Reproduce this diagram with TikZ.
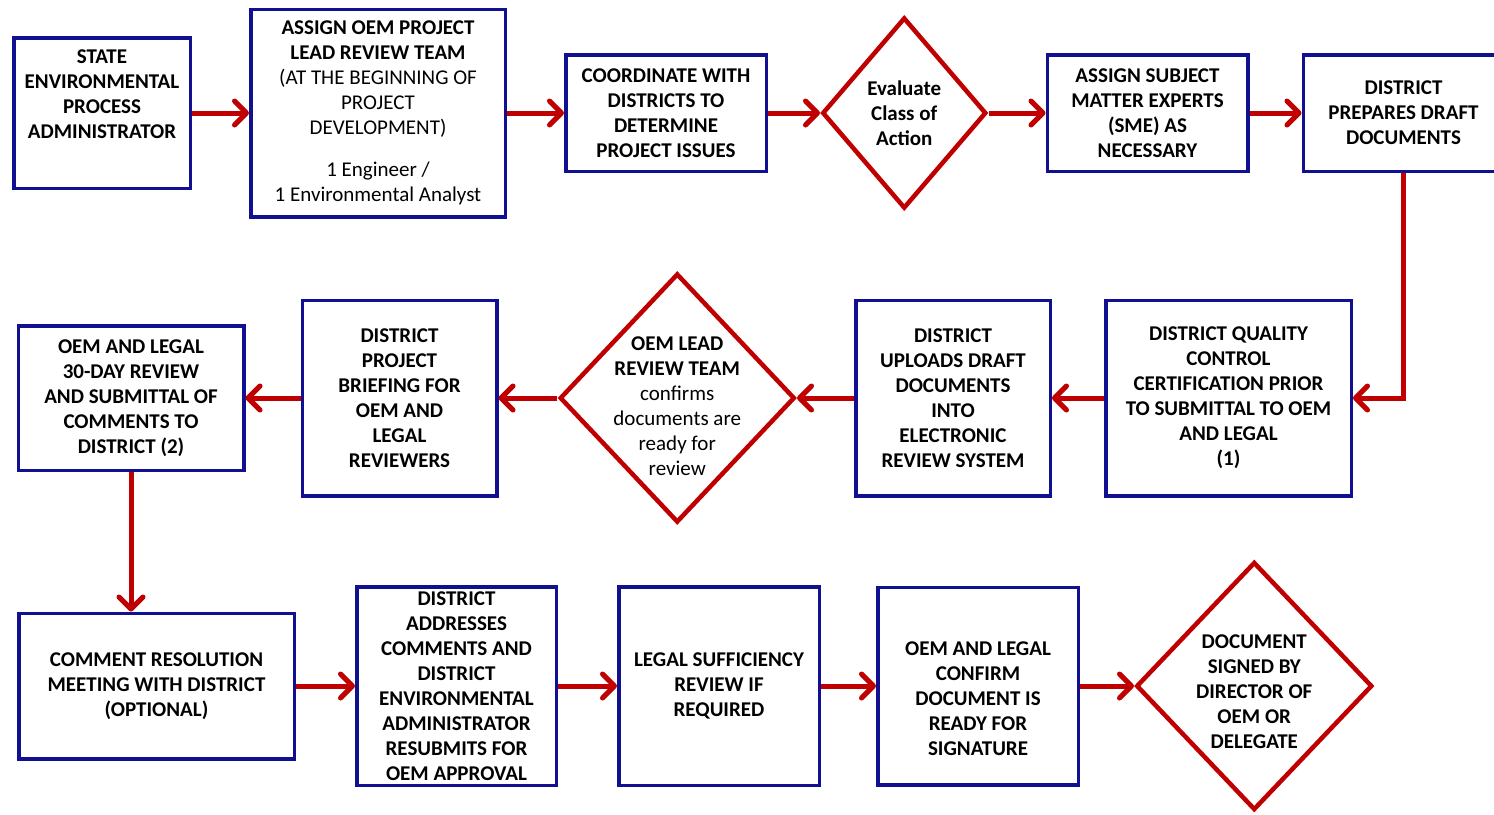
\documentclass[tikz,border=0pt]{standalone}
\usepackage{fontspec}
\setmainfont{Carlito}
\usetikzlibrary{arrows.meta,positioning,shapes.geometric}
\definecolor{boxblue}{RGB}{16,16,145}
\definecolor{flowred}{RGB}{192,0,0}

\begin{document}
\begin{tikzpicture}[x=1pt,y=-1pt,->,>={Straight Barb[length=12pt,width=24pt,round]},
                    every edge/.style={draw=flowred,line width=5pt},
                    stepbox/.style={rectangle,draw=boxblue,line width=3.5pt,align=center,
                                    font=\fontsize{21}{25}\selectfont\bfseries,inner sep=2pt},
                    decision/.style={diamond,draw=flowred,line width=4.5pt,inner sep=0pt},
                    dtext/.style={align=center,font=\fontsize{21}{25}\selectfont}]
  \useasboundingbox (0,0) rectangle (1494,814);

  % first row
  \node[stepbox,minimum width=176.5pt,minimum height=150.5pt] (sepa) at (102,113) {};
  \node[dtext,font=\fontsize{21}{25}\selectfont\bfseries] (sepatxt) at ([yshift=18.5pt]sepa.center)
       {STATE\\ENVIRONMENTAL\\PROCESS\\ADMINISTRATOR};
  \node[stepbox,minimum width=254.5pt,minimum height=207.5pt] (lead) [right=57pt of sepa]
       {ASSIGN OEM PROJECT\\LEAD REVIEW TEAM\\{\mdseries (AT THE BEGINNING OF}\\
        {\mdseries PROJECT}\\{\mdseries DEVELOPMENT)}\\[17pt]{\mdseries 1 Engineer /}\\
        {\mdseries 1 Environmental Analyst}};
  \node[stepbox,minimum width=200.5pt,minimum height=116.5pt] (coord) [right=57pt of lead]
       {COORDINATE WITH\\DISTRICTS TO\\DETERMINE\\PROJECT ISSUES};
  \node[decision,minimum width=164pt,minimum height=191pt] (eval) [right=52pt of coord] {};
  \node[dtext,font=\fontsize{21}{25}\selectfont\bfseries] (evaltxt) at (eval)
       {Evaluate\\Class of\\Action};
  \node[stepbox,minimum width=200.5pt,minimum height=116.5pt] (sme) [right=57pt of eval]
       {ASSIGN SUBJECT\\MATTER EXPERTS\\(SME) AS\\NECESSARY};
  \node[stepbox,minimum width=200.5pt,minimum height=116.5pt] (prep) [right=52pt of sme]
       {DISTRICT\\PREPARES DRAFT\\DOCUMENTS};

  % second row
  \node[stepbox,minimum width=245.5pt,minimum height=195.5pt] (qc) at (1228.5,398)
       {DISTRICT QUALITY\\CONTROL\\CERTIFICATION PRIOR\\TO SUBMITTAL TO OEM\\AND LEGAL\\(1)};
  \node[stepbox,minimum width=194.5pt,minimum height=195.5pt] (upl) [left=52pt of qc]
       {DISTRICT\\UPLOADS DRAFT\\DOCUMENTS\\INTO\\ELECTRONIC\\REVIEW SYSTEM};
  \node[decision,minimum width=235pt,minimum height=249pt] (conf) [left=57pt of upl] {};
  \node[dtext] (conftxt) at ([yshift=-8.5pt]conf.center)
       {\textbf{OEM LEAD}\\\textbf{REVIEW TEAM}\\confirms\\documents are\\ready for\\review};
  \node[stepbox,minimum width=194.5pt,minimum height=195.5pt] (brief) [left=59pt of conf]
       {DISTRICT\\PROJECT\\BRIEFING FOR\\OEM AND\\LEGAL\\REVIEWERS};
  \node[stepbox,minimum width=225.5pt,minimum height=144.5pt] (rev) [left=55pt of brief]
       {OEM AND LEGAL\\30-DAY REVIEW\\AND SUBMITTAL OF\\COMMENTS TO\\DISTRICT (2)};

  % third row
  \node[stepbox,minimum width=275.5pt,minimum height=145.5pt] (crm) at (156.5,686)
       {COMMENT RESOLUTION\\MEETING WITH DISTRICT\\(OPTIONAL)};
  \node[stepbox,minimum width=199.5pt,minimum height=198.5pt] (addr) [right=59pt of crm]
       {DISTRICT\\ADDRESSES\\COMMENTS AND\\DISTRICT\\ENVIRONMENTAL\\ADMINISTRATOR\\RESUBMITS FOR\\OEM APPROVAL};
  \node[stepbox,minimum width=200.5pt,minimum height=198.5pt] (legal) [right=59pt of addr]
       {LEGAL SUFFICIENCY\\REVIEW IF\\REQUIRED};
  \node[stepbox,minimum width=200.5pt,minimum height=197.5pt] (ready) [right=55pt of legal] {};
  \node[dtext,font=\fontsize{21}{25}\selectfont\bfseries] (readytxt) at ([yshift=-13pt]ready.center)
       {OEM AND LEGAL\\CONFIRM\\DOCUMENT IS\\READY FOR\\SIGNATURE};
  \node[decision,minimum width=236pt,minimum height=248pt] (sign) [right=54pt of ready] {};
  \node[dtext,font=\fontsize{21}{25}\selectfont\bfseries] (signtxt) at ([yshift=-5.5pt]sign.center)
       {DOCUMENT\\SIGNED BY\\DIRECTOR OF\\OEM OR\\DELEGATE};

  \path (sepa) edge (lead)
        (lead) edge (coord)
        (coord) edge (eval)
        (eval) edge (sme)
        (sme) edge (prep)
        (qc) edge (upl)
        (upl) edge (conf)
        (conf) edge (brief)
        (brief) edge (rev)
        (crm) edge (addr)
        (addr) edge (legal)
        (legal) edge (ready)
        (ready) edge (sign);
  \draw[flowred,line width=5pt] (prep.south) |- (qc.east);
  \draw[flowred,line width=5pt] (rev.south) -- (rev.south |- crm.north);
\end{tikzpicture}
\end{document}
